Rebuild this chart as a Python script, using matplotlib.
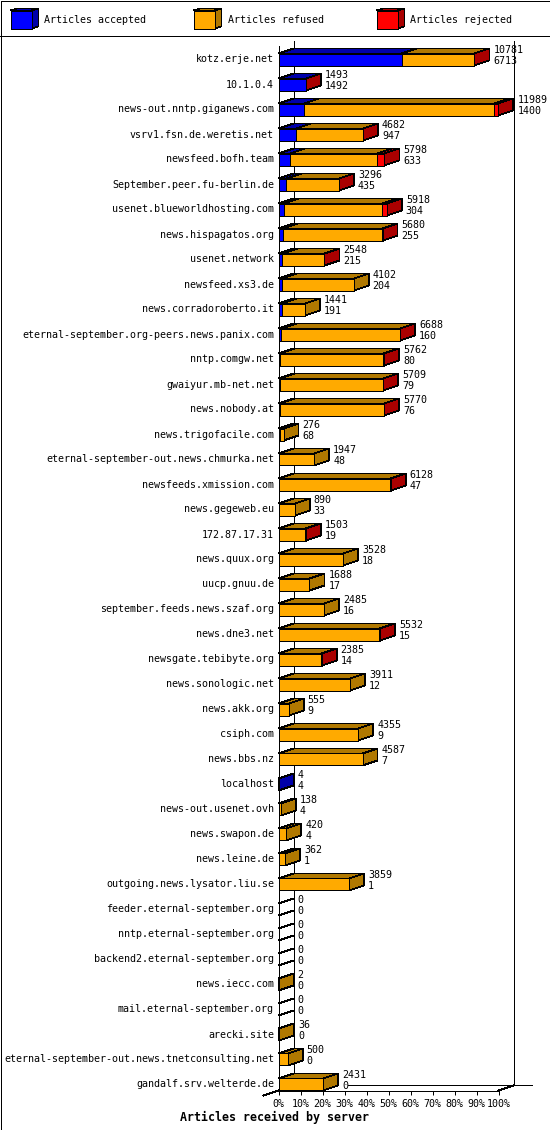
import matplotlib
matplotlib.use('Agg')
import matplotlib.pyplot as plt
from matplotlib.patches import Polygon, Rectangle
from matplotlib.transforms import ScaledTranslation

servers = ['kotz.erje.net', '10.1.0.4', 'news-out.nntp.giganews.com', 'vsrv1.fsn.de.weretis.net',
           'newsfeed.bofh.team', 'September.peer.fu-berlin.de', 'usenet.blueworldhosting.com',
           'news.hispagatos.org', 'usenet.network', 'newsfeed.xs3.de', 'news.corradoroberto.it',
           'eternal-september.org-peers.news.panix.com', 'nntp.comgw.net', 'gwaiyur.mb-net.net',
           'news.nobody.at', 'news.trigofacile.com', 'eternal-september-out.news.chmurka.net',
           'newsfeeds.xmission.com', 'news.gegeweb.eu', '172.87.17.31', 'news.quux.org',
           'uucp.gnuu.de', 'september.feeds.news.szaf.org', 'news.dne3.net', 'newsgate.tebibyte.org',
           'news.sonologic.net', 'news.akk.org', 'csiph.com', 'news.bbs.nz', 'localhost',
           'news-out.usenet.ovh', 'news.swapon.de', 'news.leine.de', 'outgoing.news.lysator.liu.se',
           'feeder.eternal-september.org', 'nntp.eternal-september.org',
           'backend2.eternal-september.org', 'news.iecc.com', 'mail.eternal-september.org',
           'arecki.site', 'eternal-september-out.news.tnetconsulting.net', 'gandalf.srv.welterde.de']

offered = [10781, 1493, 11989, 4682, 5798, 3296, 5918, 5680, 2548, 4102, 1441, 6688, 5762, 5709,
           5770, 276, 1947, 6128, 890, 1503, 3528, 1688, 2485, 5532, 2385, 3911, 555, 4355, 4587,
           4, 138, 420, 362, 3859, 0, 0, 0, 2, 0, 36, 500, 2431]
accepted = [6713, 1492, 1400, 947, 633, 435, 304, 255, 215, 204, 191, 160, 80, 79,
            76, 68, 48, 47, 33, 19, 18, 17, 16, 15, 14, 12, 9, 9, 7,
            4, 4, 4, 1, 1, 0, 0, 0, 0, 0, 0, 0, 0]
# the labels only give offered and accepted
refused = [3950, 0, 10350, 3650, 4762, 2850, 5364, 5400, 2270, 3898, 1250, 6450, 5640, 5600,
           5660, 208, 1899, 6040, 857, 1450, 3510, 1671, 2469, 5480, 2300, 3899, 546, 4346, 4580,
           0, 134, 416, 361, 3858, 0, 0, 0, 2, 0, 36, 500, 2431]
rejected = [20, 1, 239, 13, 381, 11, 240, 25, 23, 0, 0, 28, 32, 30,
            34, 0, 0, 41, 0, 31, 0, 0, 0, 37, 40, 0, 0, 0, 0,
            0, 0, 0, 0, 0, 0, 0, 0, 0, 0, 0, 0, 0]

legend_names = ['Articles accepted', 'Articles refused', 'Articles rejected']
percent_labels = ['0%', '10%', '20%', '30%', '40%', '50%', '60%', '70%', '80%', '90%', '100%']

BLUE, BLUE_D = '#0000ff', '#0000aa'
ORANGE, ORANGE_D = '#ffaa00', '#b07800'
RED, RED_D = '#ff0000', '#aa0000'

plt.rcParams['font.family'] = 'DejaVu Sans Mono'
plt.rcParams['text.antialiased'] = True
plt.rcParams['patch.antialiased'] = False
plt.rcParams['lines.antialiased'] = False

W, H = 550, 1130
LW = 0.72
LW_FACE = 0.5   # slanted faces come out too heavy at full width
FS = 7.2
XMAX = 12000
PX_X = XMAX / 220.0   # articles per pixel
PX_Y = 1 / 25.0       # rows per pixel
DX, DY = 15 * PX_X, 5 * PX_Y
BAR_H = 12 * PX_Y

fig = plt.figure(figsize=(W / 100, H / 100), dpi=100)

# overlay in pixel coordinates for frame and legend
bg = fig.add_axes([0, 0, 1, 1])
bg.set_xlim(0, W)
bg.set_ylim(H, 0)
bg.axis('off')
bg.add_patch(Rectangle((0.5, 0.5), W - 1, H - 1, fill=False, ec='black', lw=LW))
bg.plot([0, W], [35.5, 35.5], color='black', lw=LW)

for x, tx, name, c, cd in zip([10.5, 193.5, 376.5], [44.5, 227.5, 410.5], legend_names,
                              [BLUE, ORANGE, RED], [BLUE_D, ORANGE_D, RED_D]):
    bg.add_patch(Polygon([(x, 10.5), (x + 7, 8.5), (x + 28, 8.5), (x + 21, 10.5)], fc=cd, ec='black', lw=LW_FACE))
    bg.add_patch(Polygon([(x + 21, 10.5), (x + 28, 8.5), (x + 28, 26.5), (x + 21, 28.5)], fc=cd, ec='black', lw=LW_FACE))
    bg.add_patch(Rectangle((x, 10.5), 21, 18, fc=c, ec='black', lw=LW))
    bg.text(tx, 20, name, fontsize=FS, va='center', ha='left')

bg.text(274, 1117, 'Articles received by server', fontsize=8.4, fontweight='bold', ha='center', va='center')

# main axes: x in articles, y in rows
left, right = 278.5, 498.5
top, bottom = 45.5, 1090.5
ax = fig.add_axes([left / W, 1 - bottom / H, (right - left) / W, (bottom - top) / H])
ax.patch.set_alpha(0)
ax.set_xlim(0, XMAX)
ybot = (bottom - 59.5) / 25
ytop = (top - 59.5) / 25
ax.set_ylim(ybot, ytop)

for s in ['top', 'right']:
    ax.spines[s].set_visible(False)
for s in ['left', 'bottom']:
    ax.spines[s].set_linewidth(LW)

rows = list(range(len(servers)))
ax.set_yticks(rows)
ax.set_yticklabels(servers, fontsize=FS)
ax.tick_params(axis='y', length=0, pad=3.3)
ax.set_xticks([XMAX * i / 10 for i in range(11)])
ax.set_xticklabels(percent_labels, fontsize=FS)
ax.tick_params(axis='x', length=3.2, width=LW, pad=3)

# labels sit a pixel above the bar centre
up = ScaledTranslation(0, 1 / 100, fig.dpi_scale_trans)
for lab in ax.get_yticklabels():
    lab.set_transform(lab.get_transform() + up)

# back wall and floor
ln = dict(color='black', lw=LW, clip_on=False, zorder=1)
ax.plot([DX, DX], [ybot - DY, ytop - DY], **ln)
ax.plot([XMAX + DX, XMAX + DX], [ybot - DY, ytop - DY], **ln)
ax.plot([(348 - left) * PX_X, (531.5 - left) * PX_X], [ybot - DY, ybot - DY], **ln)
ax.plot([XMAX, XMAX + DX], [ybot, ybot - DY], **ln)
ax.plot([-DX, 0], [ybot + DY, ybot], **ln)


def top_face(x0, x1, r, color):
    y = r - BAR_H / 2
    ax.add_patch(Polygon([(x0, y), (x0 + DX, y - DY), (x1 + DX, y - DY), (x1, y)],
                         fc=color, ec='black', lw=LW_FACE, clip_on=False, zorder=2))


def side_face(x, r, color):
    y0, y1 = r - BAR_H / 2, r + BAR_H / 2
    if color == 'white':
        # empty row: only the two slanted edges show
        ax.plot([x, x + DX], [y0, y0 - DY], color='black', lw=LW_FACE, clip_on=False, zorder=1)
        ax.plot([x, x + DX], [y1, y1 - DY], color='black', lw=LW_FACE, clip_on=False, zorder=1)
        return
    ax.add_patch(Polygon([(x, y0), (x + DX, y0 - DY), (x + DX, y1 - DY), (x, y1)],
                         fc=color, ec='black', lw=LW_FACE, clip_on=False, zorder=2))


for r in rows:
    a, f, j = accepted[r], refused[r], rejected[r]
    end = a + f + j
    if a:
        top_face(0, a, r, BLUE_D)
    if f:
        top_face(a, a + f, r, ORANGE_D)
    if j:
        top_face(a + f, end, r, RED_D)
    side = RED_D if j else ORANGE_D if f else BLUE_D if a else 'white'
    side_face(end, r, side)
    ax.text(end + DX + 4 * PX_X, r - 9.5 * PX_Y, str(offered[r]), fontsize=FS, va='center', ha='left', clip_on=False, zorder=4)
    ax.text(end + DX + 4 * PX_X, r + 1.5 * PX_Y, str(a), fontsize=FS, va='center', ha='left', clip_on=False, zorder=4)

acc_left = [0] * len(rows)
ref_left = accepted
rej_left = [a + f for a, f in zip(accepted, refused)]
ax.barh(rows, accepted, left=acc_left, height=BAR_H, color=BLUE, edgecolor='black', linewidth=LW, zorder=3, clip_on=False)
ax.barh(rows, refused, left=ref_left, height=BAR_H, color=ORANGE, edgecolor='black', linewidth=LW, zorder=3, clip_on=False)
ax.barh(rows, rejected, left=rej_left, height=BAR_H, color=RED, edgecolor='black', linewidth=LW, zorder=3, clip_on=False)

fig.savefig('out.png', dpi=100)
